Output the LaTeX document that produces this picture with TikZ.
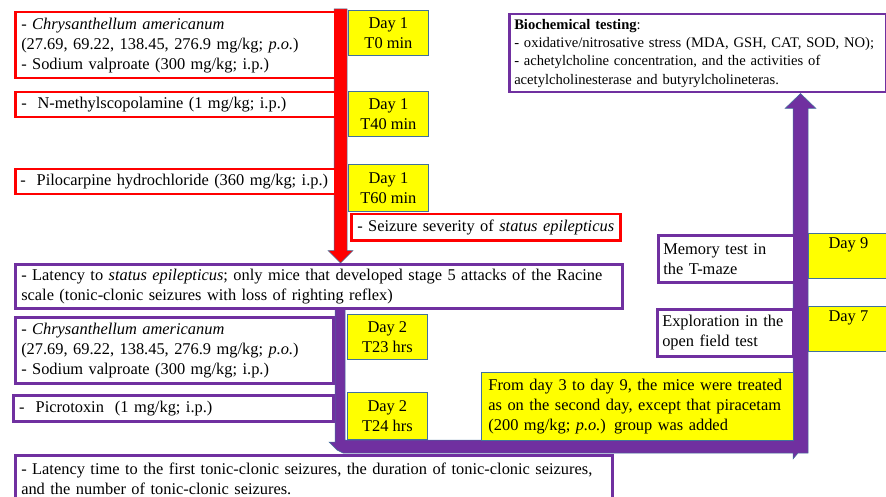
\documentclass[tikz,border=0pt]{standalone}
\usepackage{fontspec}
\setmainfont{Liberation Serif}
\usetikzlibrary{calc,backgrounds}
\definecolor{rd}{RGB}{255,0,0}
\definecolor{pu}{RGB}{112,48,160}
\definecolor{yl}{RGB}{255,255,0}
\definecolor{ol}{RGB}{65,113,156}
\newcommand\keepl[1]{\mbox{#1}}
\begin{document}
\begin{tikzpicture}[x=1pt,y=-1pt,
  fs/.style={font=\fontsize{16.4}{20}\selectfont},
  wbox/.style={draw, line width=2.5pt, fill=white, anchor=north west, inner xsep=6pt, inner ysep=0pt, align=left, fs},
  rbox/.style={wbox, draw=rd},
  pbox/.style={wbox, draw=pu},
  ybox/.style={draw=ol, line width=0.8pt, fill=yl, anchor=north west, inner sep=0pt, align=center, fs},
  barstyle/.style={draw=ol, line width=0.5pt, line join=miter}
  ]
\useasboundingbox (0,0) rectangle (886,497);
\node[rbox, text width=308pt, minimum height=66pt] (a1) at (14,11)
    {\keepl{- \textit{Chrysanthellum americanum}}\\\keepl{(27.69, 69.22, 138.45, 276.9 mg/kg; \textit{p.o.})}\\\keepl{- Sodium valproate (300 mg/kg; i.p.)}};
\node[rbox, text width=308pt, minimum height=25pt] (a2) at (14,91)
    {\keepl{-\ \ N-methylscopolamine (1 mg/kg; i.p.)}};
\node[rbox, text width=310pt, inner xsep=5pt, minimum height=25pt] (a3) at (14,168)
    {\keepl{-\ \ Pilocarpine hydrochloride (360 mg/kg; i.p.)}};
\node[rbox, text width=257pt, minimum height=26pt] (sz) at (350,213)
    {\keepl{- Seizure severity of \textit{status epilepticus}}};
\node[pbox, text width=595pt, minimum height=44pt] (b1) at (14,263)
    {\keepl{- Latency to \textit{status epilepticus}; only mice that developed stage 5 attacks of the Racine}\\\keepl{scale (tonic-clonic seizures with loss of righting reflex)}};
\node[pbox, text width=306pt, minimum height=66pt] (b2) at (14,316)
    {\keepl{- \textit{Chrysanthellum americanum}}\\\keepl{(27.69, 69.22, 138.45, 276.9 mg/kg; \textit{p.o.})}\\\keepl{- Sodium valproate (300 mg/kg; i.p.)}};
\node[pbox, text width=308pt, minimum height=26pt] (b3) at (12,394)
    {\keepl{-\ \ Picrotoxin\ \ (1 mg/kg; i.p.)}};
\node[pbox, text width=585pt, minimum height=48pt] (b4) at (14,454)
    {\keepl{- Latency time to the first tonic-clonic seizures, the duration of tonic-clonic seizures,}\\\keepl{and the number of tonic-clonic seizures.}};
\node[pbox, text width=126pt, inner xsep=5pt, minimum height=47pt] (mem) at (657,234)
    {\keepl{Memory test in}\\\keepl{the T-maze}};
\node[pbox, text width=126pt, inner xsep=5pt, minimum height=47pt] (exp) at (656,308)
    {\keepl{Exploration in the}\\\keepl{open field test}};
\node[pbox, text width=367pt, inner xsep=5pt, minimum height=78pt, font=\fontsize{14.6}{18.3}\selectfont] (bio) at (508,13)
    {\keepl{\textbf{Biochemical testing}:}\\\keepl{- oxidative/nitrosative stress (MDA, GSH, CAT, SOD, NO);}\\\keepl{- achetylcholine concentration, and the activities of}\\\keepl{acetylcholinesterase and butyrylcholineteras.}};
% yellow boxes
\node[ybox, minimum width=80pt, minimum height=45pt] (y1) at (348,10) {Day 1\\T0 min};
\node[ybox, minimum width=80pt, minimum height=45pt] (y2) at (348,91) {Day 1\\T40 min};
\node[ybox, minimum width=80pt, minimum height=47pt] (y3) at (348,164) {Day 1\\T60 min};
\node[ybox, minimum width=80pt, minimum height=45pt] (y4) at (347,314) {Day 2\\T23 hrs};
\node[ybox, minimum width=80pt, minimum height=47pt] (y5) at (347,392) {Day 2\\T24 hrs};
\node[ybox, minimum width=80pt, minimum height=45pt] (y9) at (808,233) {Day 9\\\strut};
\node[ybox, minimum width=80pt, minimum height=45pt] (y7) at (808,306) {Day 7\\\strut};
\node[ybox, align=left, text width=298pt, inner xsep=7pt, minimum height=68pt] (yf) at (481,372)
    {\keepl{From day 3 to day 9, the mice were treated}\\\keepl{as on the second day, except that piracetam}\\\keepl{(200 mg/kg; \textit{p.o.}) group was added}};
\begin{scope}[on background layer]
% red block arrow
\coordinate (r0) at (340.5,9);
\coordinate (r1) at (r0 |- b1.north);
\fill[rd, barstyle] ($(r0)+(-6.5,0)$) -- ($(r0)+(6.5,0)$) -- ($(r1)+(6.5,-12.5)$) -- ($(r1)+(12.5,-12.5)$) -- (r1) -- ($(r1)+(-12.5,-12.5)$) -- ($(r1)+(-6.5,-12.5)$) -- cycle;
% purple bent block arrow
\coordinate (r2) at (340,0);
\coordinate (p0) at (b1.south -| r2);
\coordinate (lc) at (340,446);
\coordinate (pc) at (800.5,446);
\coordinate (p1) at (pc |- bio.south);
\fill[pu, barstyle] ($(p0)+(-5,0)$) -- ($(p0)+(5,0)$) -- ($(lc)+(5,-6)$) -- ($(pc)+(-7.5,-6)$) -- ($(p1)+(-7.5,15)$) -- ($(p1)+(-15.5,15)$) -- (p1) -- ($(p1)+(15.5,15)$) -- ($(p1)+(7.5,15)$) -- ($(pc)+(7.5,7)$) -- ($(pc)+(-2.5,7)$) -- ($(pc)+(-7.5,13)$) -- ($(pc)+(-7.5,7)$) -- ($(lc)+(3,7)$) -- ($(lc)+(-3,4)$) -- ($(lc)+(-11,-4)$) -- ($(lc)+(-5,-4)$) -- cycle;
\end{scope}
\end{tikzpicture}
\end{document}
